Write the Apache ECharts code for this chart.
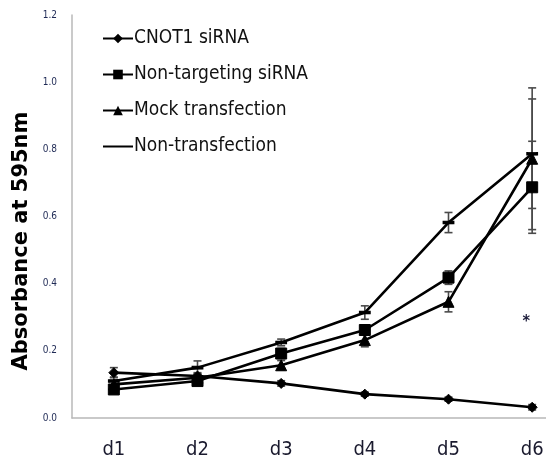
<!DOCTYPE html>
<html>
<head>
<meta charset="utf-8">
<script src="https://cdn.jsdelivr.net/npm/echarts@6/dist/echarts.min.js"></script>
<style>
html,body{margin:0;padding:0;background:#fff;}
#chart{width:546px;height:464px;}
</style>
</head>
<body>
<div id="chart"></div>
<script>
// Days of the proliferation assay
var days = ['d1', 'd2', 'd3', 'd4', 'd5', 'd6'];

// Mean absorbance at 595 nm for each condition
var cnot1 = [0.135, 0.125, 0.103, 0.071, 0.056, 0.032];
var nonTargeting = [0.085, 0.110, 0.192, 0.262, 0.418, 0.687];
var mock = [0.100, 0.120, 0.157, 0.232, 0.346, 0.772];
var nonTransfection = [0.110, 0.150, 0.225, 0.314, 0.582, 0.787];

// Standard deviations (error bar half-lengths)
var cnot1Err = [0.015, 0.010, 0.008, 0.006, 0.006, 0.008];
var nonTargetingErr = [0.010, 0.012, 0.015, 0.015, 0.020, 0.137];
var mockErr = [0.012, 0.012, 0.014, 0.020, 0.030, 0.211];
var nonTransfectionErr = [0.012, 0.020, 0.010, 0.020, 0.030, 0.163];

// Significance mark at d6
var starLabel = '*';
var starValue = 0.29;

var FONT = "'Liberation Sans Narrow', 'DejaVu Sans Condensed', sans-serif";

// Short horizontal dash used as the marker of the untreated series
var DASH = 'path://M0,0 L10,0 L10,3 L0,3 Z';

function errorSeries(name, means, errs) {
  return {
    type: 'custom',
    name: name + ' err',
    z: 1,
    silent: true,
    data: means.map(function (m, i) { return [i, m - errs[i], m + errs[i]]; }),
    renderItem: function (params, api) {
      var lo = api.coord([api.value(0), api.value(1)]);
      var hi = api.coord([api.value(0), api.value(2)]);
      var cap = 4;
      var style = { stroke: '#4a4a4a', lineWidth: 1.6 };
      return {
        type: 'group',
        children: [
          { type: 'line', shape: { x1: lo[0], y1: lo[1], x2: hi[0], y2: hi[1] }, style: style },
          { type: 'line', shape: { x1: lo[0] - cap, y1: lo[1], x2: lo[0] + cap, y2: lo[1] }, style: style },
          { type: 'line', shape: { x1: hi[0] - cap, y1: hi[1], x2: hi[0] + cap, y2: hi[1] }, style: style }
        ]
      };
    }
  };
}

function lineSeries(name, values, symbol, size) {
  return {
    type: 'line',
    name: name,
    data: values,
    z: 3,
    symbol: symbol,
    symbolSize: size,
    lineStyle: { color: '#000', width: 2.6 },
    itemStyle: { color: '#000', borderColor: '#000' },
    emphasis: { disabled: true }
  };
}

var chart = echarts.init(document.getElementById('chart'), null, { renderer: 'canvas' });

var cnotSeries = lineSeries('CNOT1 siRNA', cnot1, 'diamond', 10);
cnotSeries.markPoint = {
  symbol: 'circle',
  symbolSize: 1,
  itemStyle: { color: 'rgba(0,0,0,0)' },
  data: [{ coord: ['d6', starValue], value: starLabel }],
  label: {
    show: true,
    position: 'inside',
    formatter: starLabel,
    color: '#1c1c3a',
    fontSize: 16,
    fontWeight: 'bold',
    fontFamily: FONT,
    offset: [-6, 1]
  }
};

chart.setOption({
  animation: false,
  backgroundColor: '#fff',
  grid: { left: 72, top: 15, width: 502, height: 403, outerBoundsMode: 'none', containLabel: false },
  legend: {
    orient: 'vertical',
    left: 102,
    top: 29,
    padding: 0,
    itemWidth: 30,
    itemHeight: 12,
    itemGap: 17,
    selectedMode: false,
    data: [
      'CNOT1 siRNA',
      'Non-targeting siRNA',
      'Mock transfection',
      { name: 'Non-transfection', itemStyle: { opacity: 0 } }
    ],
    textStyle: { fontSize: 19, color: '#111', fontFamily: FONT, padding: [0, 0, 0, -4] }
  },
  xAxis: {
    type: 'category',
    data: days,
    boundaryGap: true,
    axisLine: { show: true, lineStyle: { color: '#b8b8b8', width: 1.5 } },
    axisTick: { show: false },
    axisLabel: { fontSize: 20, color: '#1a1a2e', fontFamily: FONT, margin: 22 },
    splitLine: { show: false }
  },
  yAxis: {
    type: 'value',
    min: 0,
    max: 1.2,
    interval: 0.2,
    axisLine: { show: true, lineStyle: { color: '#b8b8b8', width: 1.5 } },
    axisTick: { show: false },
    splitLine: { show: false },
    axisLabel: {
      fontSize: 10,
      color: '#1f2a55',
      fontFamily: FONT,
      margin: 15,
      formatter: function (v) { return v.toFixed(1); }
    }
  },
  graphic: [{
    type: 'text',
    rotation: Math.PI / 2,
    x: 22,
    y: 241,
    style: {
      text: 'Absorbance at 595nm',
      fontSize: 21,
      fontWeight: 'bold',
      fill: '#000',
      fontFamily: "'DejaVu Sans', sans-serif",
      align: 'center',
      verticalAlign: 'middle'
    }
  }],
  series: [
    errorSeries('CNOT1 siRNA', cnot1, cnot1Err),
    errorSeries('Non-targeting siRNA', nonTargeting, nonTargetingErr),
    errorSeries('Mock transfection', mock, mockErr),
    errorSeries('Non-transfection', nonTransfection, nonTransfectionErr),
    cnotSeries,
    lineSeries('Non-targeting siRNA', nonTargeting, 'rect', 11),
    lineSeries('Mock transfection', mock, 'triangle', 11),
    lineSeries('Non-transfection', nonTransfection, DASH, [10, 3])
  ]
});
</script>
</body>
</html>
